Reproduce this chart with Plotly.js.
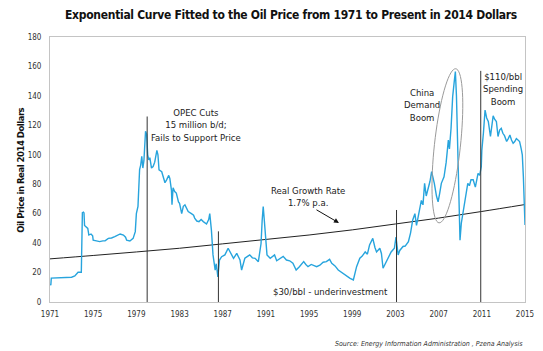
<!DOCTYPE html>
<html>
<head>
<meta charset="utf-8">
<script src="https://cdn.plot.ly/plotly-3.0.1.min.js"></script>
<style>html,body{margin:0;padding:0;background:#fff;}#chart{width:543px;height:351px;}
.gtitle{letter-spacing:-0.3px;}</style>
</head>
<body>
<div id="chart"></div>
<script>
// ---- data ----
const priceYears = [1971.00,1971.08,1971.12,1971.5,1972.0,1972.5,1973.0,1973.3,1973.5,1973.6,1973.9,
1974.0,1974.1,1974.15,1974.2,1974.4,1974.5,1974.6,1974.8,1974.95,1975.0,1975.3,1975.6,1975.9,1976.1,1976.4,1976.7,
1977.0,1977.3,1977.5,1977.8,1978.0,1978.1,1978.4,1978.7,1978.9,1979.0,1979.15,1979.3,1979.4,1979.5,1979.6,1979.7,
1979.75,1979.85,1979.95,1980.05,1980.15,1980.25,1980.4,1980.55,1980.7,1980.9,1981.0,1981.1,1981.35,1981.5,1981.65,
1981.8,1982.0,1982.1,1982.25,1982.3,1982.4,1982.55,1982.7,1982.9,1983.0,1983.2,1983.35,1983.5,1983.65,1983.8,1984.1,
1984.3,1984.4,1984.6,1984.8,1985.0,1985.2,1985.5,1985.7,1985.8,1985.95,1986.1,1986.3,1986.4,1986.55,1986.7,1986.9,
1987.2,1987.5,1987.7,1988.0,1988.3,1988.6,1988.75,1989.05,1989.3,1989.5,1989.75,1990.0,1990.3,1990.55,1990.65,1990.75,
1990.85,1991.0,1991.1,1991.4,1991.6,1991.8,1992.0,1992.3,1992.6,1992.9,1993.2,1993.5,1993.8,1994.1,1994.3,1994.5,
1994.7,1994.9,1995.2,1995.4,1995.7,1996.0,1996.3,1996.6,1996.9,1997.1,1997.4,1997.7,1998.0,1998.3,1998.6,1998.8,
1999.1,1999.4,1999.7,1999.9,2000.2,2000.4,2000.6,2000.9,2001.1,2001.25,2001.55,2001.7,2001.85,2002.0,2002.2,2002.4,
2002.6,2002.9,2003.05,2003.25,2003.4,2003.7,2003.9,2004.2,2004.4,2004.6,2004.8,2004.95,2005.1,2005.4,2005.55,2005.7,
2005.85,2006.0,2006.2,2006.35,2006.6,2006.8,2006.95,2007.1,2007.25,2007.5,2007.7,2007.9,2008.0,2008.15,2008.3,2008.45,
2008.55,2008.65,2008.72,2008.8,2008.9,2008.98,2009.1,2009.25,2009.4,2009.55,2009.7,2009.85,2010.0,2010.2,2010.4,
2010.65,2010.8,2010.95,2011.0,2011.15,2011.3,2011.45,2011.6,2011.8,2012.05,2012.2,2012.35,2012.5,2012.65,2012.8,
2012.95,2013.1,2013.3,2013.45,2013.6,2013.75,2013.9,2014.05,2014.2,2014.35,2014.5,2014.65,2014.75,2014.85,2014.95,2015.0];
const priceValues = [11.6,11.8,16.2,16.4,16.6,16.9,16.8,17.7,19.5,20.2,20.2,
60.7,61,60.5,52,51,50,45.5,46.2,45,42,41.5,41,41.5,41.6,43.2,43.5,
44.4,45.5,46.2,45.5,44,42,41.4,43.2,47.8,60,65,90,93,99,91,96,
108,116,114,100,96.5,98,91,92,95,103,100,89.7,88.5,85,81,
83,86,84,76,66,77.5,75,74,68,67,60,65,66,63,61.4,60,
59,57,55,54.6,56,54.6,53,56,60,49,32,21.7,26,17,28.5,30.8,
32,36.5,34,29.7,33,28.5,21.7,29.7,31,32,30,29.7,27.4,39.7,55,64.8,
55.7,40,32,29.7,31,32,28,29.7,31,28.5,28,26.3,21.7,24,25.5,27.4,
25.5,24,25.5,25,24,25,27,27.4,29,26.3,24.5,21.7,20,18.3,17,16,
15,24,29.7,31,34,32.5,38.7,43.2,37,34,36.5,33,22.9,25,28.5,31,
34,36.5,44,32,35,37.7,38,41,47,55.7,60,52,58,69,66,80.6,
72,76,82,88.5,80.6,72,68,74,80.6,85,95,110,104,118,139.5,150,
156.5,140,120,103,70,42,53.5,60,67,75,80.6,79,83,83,78,
87.4,86,92,103,115,130.4,125,122.6,112.4,126.4,124,122.6,112.4,116.8,118,
114.6,113,109,111,113.4,110,107.8,109,111,110,109,104,100,85,65,52.3];

const trendYears  = [1971,1975,1979,1983,1987,1991,1995,1999,2003,2007,2011,2015];
const trendValues = [29.3,31.6,34.0,36.5,39.5,42.5,45.5,49.0,53.0,57.0,61.5,66.2];

const eventYears = [1980.0, 1986.6, 2003.1, 2010.9];
const eventTops  = [126, 48, 62.5, 157];

const xTickVals = [1971,1975,1979,1983,1987,1991,1995,1999,2003,2007,2011,2015];
const xTickText = ['1971','1975','1979','1983','1987','1991','1995','1999','2003','2007','2011','2015'];

// ---- layout geometry ----
const W = 543, H = 351, mL = 50, mR = 18, mT = 37, mB = 49;
const xRange = [1971, 2015], yRange = [0, 180];
const plotW = W - mL - mR, plotH = H - mT - mB;
const pxPerYear = plotW / (xRange[1] - xRange[0]);
const pxPerUnit = plotH / (yRange[1] - yRange[0]);

// ellipse around China demand boom (center in data units, sizes in px)
const ellCenter = [2007.81, 106.1], ellHalfLen = 77.5, ellHalfWid = 13, ellTiltDeg = 6.2;
function ellipsePath() {
  const th = ellTiltDeg * Math.PI / 180;
  const ux = Math.sin(th), uy = -Math.cos(th);
  const vx = Math.cos(th), vy = Math.sin(th);
  let d = '';
  for (let i = 0; i <= 72; i++) {
    const t = 2 * Math.PI * i / 72;
    const a = ellHalfLen * Math.cos(t), b = ellHalfWid * Math.sin(t);
    const px = a * ux + b * vx, py = a * uy + b * vy;
    const X = ellCenter[0] + px / pxPerYear, Y = ellCenter[1] - py / pxPerUnit;
    d += (i === 0 ? 'M' : 'L') + X.toFixed(4) + ',' + Y.toFixed(3);
  }
  return d + 'Z';
}

const FONT = "'DejaVu Sans Condensed', 'Liberation Sans Narrow', Roboto, sans-serif";

const shapes = eventYears.map((yr, i) => ({
  type: 'line', xref: 'x', yref: 'y', x0: yr, x1: yr, y0: 0, y1: eventTops[i],
  line: {color: '#333', width: 1}
}));
shapes.push({type: 'path', xref: 'x', yref: 'y', path: ellipsePath(), line: {color: '#9a9a9a', width: 1}});

const annText = {color: '#222', size: 9.5, family: FONT};
const annotations = [
  {x: 1984.5, y: 120.2, xref: 'x', yref: 'y', text: 'OPEC Cuts<br>15 million b/d;<br>Fails to Support Price', showarrow: false, font: annText, align: 'center'},
  {x: 1994.9, y: 72, xref: 'x', yref: 'y', text: 'Real Growth Rate<br>1.7% p.a.', showarrow: false, font: annText, align: 'center'},
  {x: 1997.77, y: 53.7, xref: 'x', yref: 'y', ax: -24, ay: -14, text: '', showarrow: true, arrowhead: 2, arrowsize: 1, arrowwidth: 1, arrowcolor: '#111'},
  {x: 1996.95, y: 6.8, xref: 'x', yref: 'y', text: '$30/bbl - underinvestment', showarrow: false, font: annText},
  {x: 2005.43, y: 133.8, xref: 'x', yref: 'y', text: 'China<br>Demand<br>Boom', showarrow: false, font: annText, align: 'center'},
  {x: 2012.96, y: 144.7, xref: 'x', yref: 'y', text: '$110/bbl<br>Spending<br>Boom', showarrow: false, font: annText, align: 'center'},
  {x: 0, xref: 'paper', xshift: -37, y: 0.495, yref: 'paper', textangle: -90, text: '<b>Oil Price in Real 2014 Dollars</b>', showarrow: false, font: {color: '#111', size: 9.5, family: FONT}},
  {x: 1, xref: 'paper', xanchor: 'right', y: 0, yref: 'paper', yanchor: 'middle', yshift: -42, text: '<i>Source: Energy Information Administration , Pzena Analysis</i>', showarrow: false, font: {color: '#333', size: 7, family: FONT}}
];

const traces = [
  {x: trendYears, y: trendValues, type: 'scatter', mode: 'lines', line: {color: '#222', width: 1, shape: 'spline'}, hoverinfo: 'skip'},
  {x: priceYears, y: priceValues, type: 'scatter', mode: 'lines', line: {color: '#27a4dd', width: 1.4}, hoverinfo: 'skip'}
];

const layout = {
  width: W, height: H,
  margin: {l: mL, r: mR, t: mT, b: mB, pad: 0},
  paper_bgcolor: '#fff', plot_bgcolor: '#fff',
  showlegend: false,
  font: {family: FONT, color: '#333'},
  title: {text: '<b>Exponential Curve Fitted to the Oil Price from 1971 to Present in 2014 Dollars</b>',
          x: 291 / W, xref: 'container', xanchor: 'center', y: 1 - 15 / H, yref: 'container', yanchor: 'middle',
          font: {family: FONT, size: 12, color: '#111'}},
  xaxis: {range: xRange, tickvals: xTickVals, ticktext: xTickText, showgrid: false, zeroline: false,
          showline: true, linecolor: '#c4c4c4', linewidth: 1, mirror: true, ticks: '',
          tickfont: {size: 8, color: '#333', family: FONT}, ticklabelstandoff: 4},
  yaxis: {range: yRange, dtick: 20, tick0: 0, showgrid: false, zeroline: false,
          showline: true, linecolor: '#c4c4c4', linewidth: 1, mirror: true, ticks: '',
          tickfont: {size: 8, color: '#333', family: FONT}, ticklabelstandoff: 6},
  shapes: shapes,
  annotations: annotations
};

Plotly.newPlot('chart', traces, layout, {staticPlot: true, displayModeBar: false}).then(function (gd) {
  gd.querySelectorAll('.annotation-text').forEach(function (t) {
    if (t.textContent.indexOf('Oil Price') === 0) t.style.letterSpacing = '-0.5px';
  });
});
</script>
</body>
</html>
